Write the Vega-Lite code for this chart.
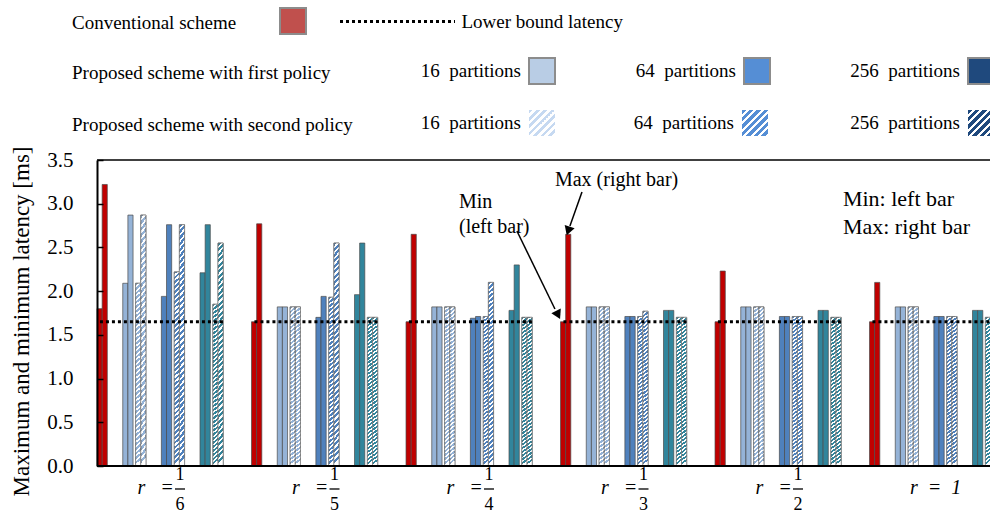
{
  "$schema": "https://vega.github.io/schema/vega-lite/v6.json",
  "width": 893,
  "height": 306,
  "autosize": {"type": "none"},
  "padding": {"left": 97, "top": 160, "right": 0, "bottom": 53},
  "background": "white",
  "config": {"font": "Liberation Serif", "view": {"stroke": null}, "legend": {"padding": 0}},
  "datasets": {
    "bars": [
      {"group":"1/6","bar":"C min","series":"C","value":1.80},{"group":"1/6","bar":"C max","series":"C","value":3.22},
      {"group":"1/6","bar":"F16 min","series":"F16","value":2.09},{"group":"1/6","bar":"F16 max","series":"F16","value":2.87},
      {"group":"1/6","bar":"S16 min","series":"S16","value":2.09},{"group":"1/6","bar":"S16 max","series":"S16","value":2.87},
      {"group":"1/6","bar":"F64 min","series":"F64","value":1.94},{"group":"1/6","bar":"F64 max","series":"F64","value":2.76},
      {"group":"1/6","bar":"S64 min","series":"S64","value":2.22},{"group":"1/6","bar":"S64 max","series":"S64","value":2.76},
      {"group":"1/6","bar":"F256 min","series":"F256","value":2.21},{"group":"1/6","bar":"F256 max","series":"F256","value":2.76},
      {"group":"1/6","bar":"S256 min","series":"S256","value":1.85},{"group":"1/6","bar":"S256 max","series":"S256","value":2.55},

      {"group":"1/5","bar":"C min","series":"C","value":1.65},{"group":"1/5","bar":"C max","series":"C","value":2.77},
      {"group":"1/5","bar":"F16 min","series":"F16","value":1.82},{"group":"1/5","bar":"F16 max","series":"F16","value":1.82},
      {"group":"1/5","bar":"S16 min","series":"S16","value":1.82},{"group":"1/5","bar":"S16 max","series":"S16","value":1.82},
      {"group":"1/5","bar":"F64 min","series":"F64","value":1.70},{"group":"1/5","bar":"F64 max","series":"F64","value":1.94},
      {"group":"1/5","bar":"S64 min","series":"S64","value":1.93},{"group":"1/5","bar":"S64 max","series":"S64","value":2.55},
      {"group":"1/5","bar":"F256 min","series":"F256","value":1.96},{"group":"1/5","bar":"F256 max","series":"F256","value":2.55},
      {"group":"1/5","bar":"S256 min","series":"S256","value":1.70},{"group":"1/5","bar":"S256 max","series":"S256","value":1.70},

      {"group":"1/4","bar":"C min","series":"C","value":1.65},{"group":"1/4","bar":"C max","series":"C","value":2.65},
      {"group":"1/4","bar":"F16 min","series":"F16","value":1.82},{"group":"1/4","bar":"F16 max","series":"F16","value":1.82},
      {"group":"1/4","bar":"S16 min","series":"S16","value":1.82},{"group":"1/4","bar":"S16 max","series":"S16","value":1.82},
      {"group":"1/4","bar":"F64 min","series":"F64","value":1.69},{"group":"1/4","bar":"F64 max","series":"F64","value":1.71},
      {"group":"1/4","bar":"S64 min","series":"S64","value":1.71},{"group":"1/4","bar":"S64 max","series":"S64","value":2.10},
      {"group":"1/4","bar":"F256 min","series":"F256","value":1.78},{"group":"1/4","bar":"F256 max","series":"F256","value":2.30},
      {"group":"1/4","bar":"S256 min","series":"S256","value":1.70},{"group":"1/4","bar":"S256 max","series":"S256","value":1.70},

      {"group":"1/3","bar":"C min","series":"C","value":1.65},{"group":"1/3","bar":"C max","series":"C","value":2.65},
      {"group":"1/3","bar":"F16 min","series":"F16","value":1.82},{"group":"1/3","bar":"F16 max","series":"F16","value":1.82},
      {"group":"1/3","bar":"S16 min","series":"S16","value":1.82},{"group":"1/3","bar":"S16 max","series":"S16","value":1.82},
      {"group":"1/3","bar":"F64 min","series":"F64","value":1.71},{"group":"1/3","bar":"F64 max","series":"F64","value":1.71},
      {"group":"1/3","bar":"S64 min","series":"S64","value":1.71},{"group":"1/3","bar":"S64 max","series":"S64","value":1.77},
      {"group":"1/3","bar":"F256 min","series":"F256","value":1.78},{"group":"1/3","bar":"F256 max","series":"F256","value":1.78},
      {"group":"1/3","bar":"S256 min","series":"S256","value":1.70},{"group":"1/3","bar":"S256 max","series":"S256","value":1.70},

      {"group":"1/2","bar":"C min","series":"C","value":1.65},{"group":"1/2","bar":"C max","series":"C","value":2.23},
      {"group":"1/2","bar":"F16 min","series":"F16","value":1.82},{"group":"1/2","bar":"F16 max","series":"F16","value":1.82},
      {"group":"1/2","bar":"S16 min","series":"S16","value":1.82},{"group":"1/2","bar":"S16 max","series":"S16","value":1.82},
      {"group":"1/2","bar":"F64 min","series":"F64","value":1.71},{"group":"1/2","bar":"F64 max","series":"F64","value":1.71},
      {"group":"1/2","bar":"S64 min","series":"S64","value":1.71},{"group":"1/2","bar":"S64 max","series":"S64","value":1.71},
      {"group":"1/2","bar":"F256 min","series":"F256","value":1.78},{"group":"1/2","bar":"F256 max","series":"F256","value":1.78},
      {"group":"1/2","bar":"S256 min","series":"S256","value":1.70},{"group":"1/2","bar":"S256 max","series":"S256","value":1.70},

      {"group":"1","bar":"C min","series":"C","value":1.65},{"group":"1","bar":"C max","series":"C","value":2.10},
      {"group":"1","bar":"F16 min","series":"F16","value":1.82},{"group":"1","bar":"F16 max","series":"F16","value":1.82},
      {"group":"1","bar":"S16 min","series":"S16","value":1.82},{"group":"1","bar":"S16 max","series":"S16","value":1.82},
      {"group":"1","bar":"F64 min","series":"F64","value":1.71},{"group":"1","bar":"F64 max","series":"F64","value":1.71},
      {"group":"1","bar":"S64 min","series":"S64","value":1.71},{"group":"1","bar":"S64 max","series":"S64","value":1.71},
      {"group":"1","bar":"F256 min","series":"F256","value":1.78},{"group":"1","bar":"F256 max","series":"F256","value":1.78},
      {"group":"1","bar":"S256 min","series":"S256","value":1.70},{"group":"1","bar":"S256 max","series":"S256","value":1.70}
    ],
    "lower": [
      {"group":"1/6","lb":1.65,"kind":"Lower bound latency"},
      {"group":"1/5","lb":1.65,"kind":"Lower bound latency"},
      {"group":"1/4","lb":1.65,"kind":"Lower bound latency"},
      {"group":"1/3","lb":1.65,"kind":"Lower bound latency"},
      {"group":"1/2","lb":1.65,"kind":"Lower bound latency"},
      {"group":"1","lb":1.65,"kind":"Lower bound latency"}
    ],
    "fractions": [
      {"group":"1/6","num":"1","den":"6"},
      {"group":"1/5","num":"1","den":"5"},
      {"group":"1/4","num":"1","den":"4"},
      {"group":"1/3","num":"1","den":"3"},
      {"group":"1/2","num":"1","den":"2"}
    ]
  },
  "layer": [
    {
      "data": {"values": [{}]},
      "mark": {"type": "rule", "color": "black", "strokeWidth": 1.5},
      "encoding": {"y": {"datum": 3.5, "type": "quantitative", "scale": {"domain": [0, 3.5], "nice": false}}}
    },
    {
      "data": {"name": "bars"},
      "mark": {"type": "bar", "width": {"band": 2}, "stroke": "#4a4a4a", "strokeWidth": 0.7},
      "encoding": {
        "x": {"field": "group", "type": "nominal", "sort": null,
          "scale": {"domain": ["1/6","1/5","1/4","1/3","1/2","1"], "range": [77.25, 1004.25], "paddingInner": 0, "paddingOuter": 0},
          "axis": {"title": null, "domain": false, "ticks": false, "labelAngle": 0,
            "labelFont": "Liberation Serif", "labelFontSize": 20, "labelFontStyle": "italic", "labelColor": "black", "labelPadding": 21,
            "labelBaseline": "middle", "labelAlign": "left", "labelOffset": -114, "labelLimit": 0,
            "labelExpr": "datum.value == '1' ? 'r\u00a0\u00a0=\u00a0\u00a01' : 'r\u00a0\u00a0\u00a0='"}},
        "xOffset": {"field": "bar", "type": "nominal",
          "scale": {"domain": ["C min","h1","C max","h3","h4","h5","h6","h7","h8","h9","F16 min","h11","F16 max","h13","h14","S16 min","h16","S16 max","h18","h19","h20","h21","h22","h23","h24","F64 min","h26","F64 max","h28","h29","S64 min","h31","S64 max","h33","h34","h35","h36","h37","h38","h39","F256 min","h41","F256 max","h43","h44","S256 min","h46","S256 max","h48","h49","h50","h51","h52","h53","h54","h55","h56","h57","h58","h59"]}},
        "y": {"field": "value", "type": "quantitative", "scale": {"domain": [0, 3.5], "nice": false},
          "axis": {"title": "Maximum and minimum latency [ms]", "titleFont": "Liberation Serif", "titleFontSize": 23, "titleFontWeight": "normal", "titleColor": "black", "titlePadding": 13, "titleY": 161,
            "values": [0, 0.5, 1, 1.5, 2, 2.5, 3, 3.5], "format": ".1f", "labelFont": "Liberation Serif", "labelFontSize": 21, "labelColor": "black", "labelPadding": 30,
            "tickSize": -6, "tickColor": "black", "tickWidth": 1.5, "domainColor": "black", "domainWidth": 2, "grid": false, "zindex": 1}},
        "fill": {"field": "series", "type": "nominal",
          "scale": {"domain": ["C","F16","S16","F64","S64","F256","S256"], "range": ["#C00000","#95B3D7","#95B3D7","#4F81BD","#4F81BD","#31859C","#31859C"]},
          "legend": null}
      }
    },
    {
      "data": {"name": "bars"},
      "transform": [{"filter": {"field": "series", "oneOf": ["S16","S64","S256"]}}],
      "mark": {"type": "bar", "width": {"band": 2}, "stroke": "#7f7f7f", "strokeWidth": 0.7,
        "fill": {"gradient": "linear", "x1": 0, "y1": 0, "x2": 0.025, "y2": 1, "stops": [
{"offset":0,"color":"rgba(255,255,255,0)"},{"offset":0.014,"color":"rgba(255,255,255,0)"},{"offset":0.014,"color":"#fff"},{"offset":0.025,"color":"#fff"},
{"offset":0.025,"color":"rgba(255,255,255,0)"},{"offset":0.039,"color":"rgba(255,255,255,0)"},{"offset":0.039,"color":"#fff"},{"offset":0.05,"color":"#fff"},
{"offset":0.05,"color":"rgba(255,255,255,0)"},{"offset":0.064,"color":"rgba(255,255,255,0)"},{"offset":0.064,"color":"#fff"},{"offset":0.075,"color":"#fff"},
{"offset":0.075,"color":"rgba(255,255,255,0)"},{"offset":0.089,"color":"rgba(255,255,255,0)"},{"offset":0.089,"color":"#fff"},{"offset":0.1,"color":"#fff"},
{"offset":0.1,"color":"rgba(255,255,255,0)"},{"offset":0.114,"color":"rgba(255,255,255,0)"},{"offset":0.114,"color":"#fff"},{"offset":0.125,"color":"#fff"},
{"offset":0.125,"color":"rgba(255,255,255,0)"},{"offset":0.139,"color":"rgba(255,255,255,0)"},{"offset":0.139,"color":"#fff"},{"offset":0.15,"color":"#fff"},
{"offset":0.15,"color":"rgba(255,255,255,0)"},{"offset":0.164,"color":"rgba(255,255,255,0)"},{"offset":0.164,"color":"#fff"},{"offset":0.175,"color":"#fff"},
{"offset":0.175,"color":"rgba(255,255,255,0)"},{"offset":0.189,"color":"rgba(255,255,255,0)"},{"offset":0.189,"color":"#fff"},{"offset":0.2,"color":"#fff"},
{"offset":0.2,"color":"rgba(255,255,255,0)"},{"offset":0.214,"color":"rgba(255,255,255,0)"},{"offset":0.214,"color":"#fff"},{"offset":0.225,"color":"#fff"},
{"offset":0.225,"color":"rgba(255,255,255,0)"},{"offset":0.239,"color":"rgba(255,255,255,0)"},{"offset":0.239,"color":"#fff"},{"offset":0.25,"color":"#fff"},
{"offset":0.25,"color":"rgba(255,255,255,0)"},{"offset":0.264,"color":"rgba(255,255,255,0)"},{"offset":0.264,"color":"#fff"},{"offset":0.275,"color":"#fff"},
{"offset":0.275,"color":"rgba(255,255,255,0)"},{"offset":0.289,"color":"rgba(255,255,255,0)"},{"offset":0.289,"color":"#fff"},{"offset":0.3,"color":"#fff"},
{"offset":0.3,"color":"rgba(255,255,255,0)"},{"offset":0.314,"color":"rgba(255,255,255,0)"},{"offset":0.314,"color":"#fff"},{"offset":0.325,"color":"#fff"},
{"offset":0.325,"color":"rgba(255,255,255,0)"},{"offset":0.339,"color":"rgba(255,255,255,0)"},{"offset":0.339,"color":"#fff"},{"offset":0.35,"color":"#fff"},
{"offset":0.35,"color":"rgba(255,255,255,0)"},{"offset":0.364,"color":"rgba(255,255,255,0)"},{"offset":0.364,"color":"#fff"},{"offset":0.375,"color":"#fff"},
{"offset":0.375,"color":"rgba(255,255,255,0)"},{"offset":0.389,"color":"rgba(255,255,255,0)"},{"offset":0.389,"color":"#fff"},{"offset":0.4,"color":"#fff"},
{"offset":0.4,"color":"rgba(255,255,255,0)"},{"offset":0.414,"color":"rgba(255,255,255,0)"},{"offset":0.414,"color":"#fff"},{"offset":0.425,"color":"#fff"},
{"offset":0.425,"color":"rgba(255,255,255,0)"},{"offset":0.439,"color":"rgba(255,255,255,0)"},{"offset":0.439,"color":"#fff"},{"offset":0.45,"color":"#fff"},
{"offset":0.45,"color":"rgba(255,255,255,0)"},{"offset":0.464,"color":"rgba(255,255,255,0)"},{"offset":0.464,"color":"#fff"},{"offset":0.475,"color":"#fff"},
{"offset":0.475,"color":"rgba(255,255,255,0)"},{"offset":0.489,"color":"rgba(255,255,255,0)"},{"offset":0.489,"color":"#fff"},{"offset":0.5,"color":"#fff"},
{"offset":0.5,"color":"rgba(255,255,255,0)"},{"offset":0.514,"color":"rgba(255,255,255,0)"},{"offset":0.514,"color":"#fff"},{"offset":0.525,"color":"#fff"},
{"offset":0.525,"color":"rgba(255,255,255,0)"},{"offset":0.539,"color":"rgba(255,255,255,0)"},{"offset":0.539,"color":"#fff"},{"offset":0.55,"color":"#fff"},
{"offset":0.55,"color":"rgba(255,255,255,0)"},{"offset":0.564,"color":"rgba(255,255,255,0)"},{"offset":0.564,"color":"#fff"},{"offset":0.575,"color":"#fff"},
{"offset":0.575,"color":"rgba(255,255,255,0)"},{"offset":0.589,"color":"rgba(255,255,255,0)"},{"offset":0.589,"color":"#fff"},{"offset":0.6,"color":"#fff"},
{"offset":0.6,"color":"rgba(255,255,255,0)"},{"offset":0.614,"color":"rgba(255,255,255,0)"},{"offset":0.614,"color":"#fff"},{"offset":0.625,"color":"#fff"},
{"offset":0.625,"color":"rgba(255,255,255,0)"},{"offset":0.639,"color":"rgba(255,255,255,0)"},{"offset":0.639,"color":"#fff"},{"offset":0.65,"color":"#fff"},
{"offset":0.65,"color":"rgba(255,255,255,0)"},{"offset":0.664,"color":"rgba(255,255,255,0)"},{"offset":0.664,"color":"#fff"},{"offset":0.675,"color":"#fff"},
{"offset":0.675,"color":"rgba(255,255,255,0)"},{"offset":0.689,"color":"rgba(255,255,255,0)"},{"offset":0.689,"color":"#fff"},{"offset":0.7,"color":"#fff"},
{"offset":0.7,"color":"rgba(255,255,255,0)"},{"offset":0.714,"color":"rgba(255,255,255,0)"},{"offset":0.714,"color":"#fff"},{"offset":0.725,"color":"#fff"},
{"offset":0.725,"color":"rgba(255,255,255,0)"},{"offset":0.739,"color":"rgba(255,255,255,0)"},{"offset":0.739,"color":"#fff"},{"offset":0.75,"color":"#fff"},
{"offset":0.75,"color":"rgba(255,255,255,0)"},{"offset":0.764,"color":"rgba(255,255,255,0)"},{"offset":0.764,"color":"#fff"},{"offset":0.775,"color":"#fff"},
{"offset":0.775,"color":"rgba(255,255,255,0)"},{"offset":0.789,"color":"rgba(255,255,255,0)"},{"offset":0.789,"color":"#fff"},{"offset":0.8,"color":"#fff"},
{"offset":0.8,"color":"rgba(255,255,255,0)"},{"offset":0.814,"color":"rgba(255,255,255,0)"},{"offset":0.814,"color":"#fff"},{"offset":0.825,"color":"#fff"},
{"offset":0.825,"color":"rgba(255,255,255,0)"},{"offset":0.839,"color":"rgba(255,255,255,0)"},{"offset":0.839,"color":"#fff"},{"offset":0.85,"color":"#fff"},
{"offset":0.85,"color":"rgba(255,255,255,0)"},{"offset":0.864,"color":"rgba(255,255,255,0)"},{"offset":0.864,"color":"#fff"},{"offset":0.875,"color":"#fff"},
{"offset":0.875,"color":"rgba(255,255,255,0)"},{"offset":0.889,"color":"rgba(255,255,255,0)"},{"offset":0.889,"color":"#fff"},{"offset":0.9,"color":"#fff"},
{"offset":0.9,"color":"rgba(255,255,255,0)"},{"offset":0.914,"color":"rgba(255,255,255,0)"},{"offset":0.914,"color":"#fff"},{"offset":0.925,"color":"#fff"},
{"offset":0.925,"color":"rgba(255,255,255,0)"},{"offset":0.939,"color":"rgba(255,255,255,0)"},{"offset":0.939,"color":"#fff"},{"offset":0.95,"color":"#fff"},
{"offset":0.95,"color":"rgba(255,255,255,0)"},{"offset":0.964,"color":"rgba(255,255,255,0)"},{"offset":0.964,"color":"#fff"},{"offset":0.975,"color":"#fff"},
{"offset":0.975,"color":"rgba(255,255,255,0)"},{"offset":0.989,"color":"rgba(255,255,255,0)"},{"offset":0.989,"color":"#fff"},{"offset":1,"color":"#fff"}
        ]}},
      "encoding": {
        "x": {"field": "group", "type": "nominal", "sort": null,
          "scale": {"domain": ["1/6","1/5","1/4","1/3","1/2","1"], "range": [77.25, 1004.25], "paddingInner": 0, "paddingOuter": 0}},
        "xOffset": {"field": "bar", "type": "nominal",
          "scale": {"domain": ["C min","h1","C max","h3","h4","h5","h6","h7","h8","h9","F16 min","h11","F16 max","h13","h14","S16 min","h16","S16 max","h18","h19","h20","h21","h22","h23","h24","F64 min","h26","F64 max","h28","h29","S64 min","h31","S64 max","h33","h34","h35","h36","h37","h38","h39","F256 min","h41","F256 max","h43","h44","S256 min","h46","S256 max","h48","h49","h50","h51","h52","h53","h54","h55","h56","h57","h58","h59"]}},
        "y": {"field": "value", "type": "quantitative", "scale": {"domain": [0, 3.5], "nice": false}}
      }
    },
    {
      "data": {"values": [{}]},
      "mark": {"type": "rule", "color": "black", "strokeWidth": 2},
      "encoding": {"y": {"datum": 0, "type": "quantitative", "scale": {"domain": [0, 3.5], "nice": false}}}
    },
    {
      "data": {"name": "lower"},
      "transform": [{"filter": "datum.group == '1/6'"}],
      "mark": {"type": "rule", "color": "black", "strokeWidth": 3},
      "encoding": {
        "x": {"datum": "1/6", "type": "nominal", "bandPosition": -0.481, "scale": {"domain": ["1/6","1/5","1/4","1/3","1/2","1"], "range": [77.25, 1004.25], "paddingInner": 0, "paddingOuter": 0}},
        "x2": {"datum": "1/6", "bandPosition": 0.316},
        "y": {"field": "lb", "type": "quantitative", "scale": {"domain": [0, 3.5], "nice": false}},
        "strokeDash": {"field": "kind", "type": "nominal",
          "scale": {"domain": ["Lower bound latency"], "range": [[3, 3]]},
          "legend": {"orient": "none", "legendX": 241.5, "legendY": -197.5, "title": null, "padding": 0,
            "symbolType": "stroke", "symbolSize": 13225, "symbolStrokeColor": "black", "symbolStrokeWidth": 3,
            "labelFont": "Liberation Serif", "labelFontSize": 19, "labelColor": "black", "labelOffset": 5, "labelLimit": 0}}
      }
    },
    {
      "data": {"name": "lower"},
      "transform": [{"filter": "datum.group == '1/5'"}],
      "mark": {"type": "rule", "color": "black", "strokeWidth": 3, "strokeDash": [3, 3]},
      "encoding": {
        "x": {"datum": "1/5", "type": "nominal", "bandPosition": -0.481, "scale": {"domain": ["1/6","1/5","1/4","1/3","1/2","1"], "range": [77.25, 1004.25], "paddingInner": 0, "paddingOuter": 0}},
        "x2": {"datum": "1/5", "bandPosition": 0.316},
        "y": {"field": "lb", "type": "quantitative", "scale": {"domain": [0, 3.5], "nice": false}}
      }
    },
    {
      "data": {"name": "lower"},
      "transform": [{"filter": "datum.group == '1/4'"}],
      "mark": {"type": "rule", "color": "black", "strokeWidth": 3, "strokeDash": [3, 3]},
      "encoding": {
        "x": {"datum": "1/4", "type": "nominal", "bandPosition": -0.481, "scale": {"domain": ["1/6","1/5","1/4","1/3","1/2","1"], "range": [77.25, 1004.25], "paddingInner": 0, "paddingOuter": 0}},
        "x2": {"datum": "1/4", "bandPosition": 0.316},
        "y": {"field": "lb", "type": "quantitative", "scale": {"domain": [0, 3.5], "nice": false}}
      }
    },
    {
      "data": {"name": "lower"},
      "transform": [{"filter": "datum.group == '1/3'"}],
      "mark": {"type": "rule", "color": "black", "strokeWidth": 3, "strokeDash": [3, 3]},
      "encoding": {
        "x": {"datum": "1/3", "type": "nominal", "bandPosition": -0.481, "scale": {"domain": ["1/6","1/5","1/4","1/3","1/2","1"], "range": [77.25, 1004.25], "paddingInner": 0, "paddingOuter": 0}},
        "x2": {"datum": "1/3", "bandPosition": 0.316},
        "y": {"field": "lb", "type": "quantitative", "scale": {"domain": [0, 3.5], "nice": false}}
      }
    },
    {
      "data": {"name": "lower"},
      "transform": [{"filter": "datum.group == '1/2'"}],
      "mark": {"type": "rule", "color": "black", "strokeWidth": 3, "strokeDash": [3, 3]},
      "encoding": {
        "x": {"datum": "1/2", "type": "nominal", "bandPosition": -0.481, "scale": {"domain": ["1/6","1/5","1/4","1/3","1/2","1"], "range": [77.25, 1004.25], "paddingInner": 0, "paddingOuter": 0}},
        "x2": {"datum": "1/2", "bandPosition": 0.316},
        "y": {"field": "lb", "type": "quantitative", "scale": {"domain": [0, 3.5], "nice": false}}
      }
    },
    {
      "data": {"name": "lower"},
      "transform": [{"filter": "datum.group == '1'"}],
      "mark": {"type": "rule", "color": "black", "strokeWidth": 3, "strokeDash": [3, 3]},
      "encoding": {
        "x": {"datum": "1", "type": "nominal", "bandPosition": -0.481, "scale": {"domain": ["1/6","1/5","1/4","1/3","1/2","1"], "range": [77.25, 1004.25], "paddingInner": 0, "paddingOuter": 0}},
        "x2": {"datum": "1", "bandPosition": 0.316},
        "y": {"field": "lb", "type": "quantitative", "scale": {"domain": [0, 3.5], "nice": false}}
      }
    },
    {
      "data": {"name": "fractions"},
      "mark": {"type": "text", "font": "Liberation Serif", "fontSize": 18, "baseline": "middle", "align": "center", "color": "black"},
      "encoding": {
        "x": {"field": "group", "type": "nominal", "bandPosition": 0.037,
          "scale": {"domain": ["1/6","1/5","1/4","1/3","1/2","1"], "range": [77.25, 1004.25], "paddingInner": 0, "paddingOuter": 0}},
        "y": {"datum": -0.103, "type": "quantitative", "scale": {"domain": [0, 3.5], "nice": false}},
        "text": {"field": "num"}
      }
    },
    {
      "data": {"name": "fractions"},
      "mark": {"type": "tick", "color": "black", "size": 10, "thickness": 1.3, "opacity": 1, "xOffset": -71.5},
      "encoding": {
        "x": {"field": "group", "type": "nominal",
          "scale": {"domain": ["1/6","1/5","1/4","1/3","1/2","1"], "range": [77.25, 1004.25], "paddingInner": 0, "paddingOuter": 0}},
        "y": {"datum": -0.263, "type": "quantitative", "scale": {"domain": [0, 3.5], "nice": false}}
      }
    },
    {
      "data": {"name": "fractions"},
      "mark": {"type": "text", "font": "Liberation Serif", "fontSize": 18, "baseline": "middle", "align": "center", "color": "black"},
      "encoding": {
        "x": {"field": "group", "type": "nominal", "bandPosition": 0.037,
          "scale": {"domain": ["1/6","1/5","1/4","1/3","1/2","1"], "range": [77.25, 1004.25], "paddingInner": 0, "paddingOuter": 0}},
        "y": {"datum": -0.446, "type": "quantitative", "scale": {"domain": [0, 3.5], "nice": false}},
        "text": {"field": "den"}
      }
    },
    {
      "data": {"values": []},
      "mark": {"type": "bar"},
      "encoding": {
        "fill": {"field": "k", "type": "nominal",
          "scale": {"domain": ["Conventional"], "range": ["#C0504D"]},
          "legend": {"orient": "none", "legendX": -25, "legendY": -153, "padding": 0,
            "title": "Conventional scheme", "titleOrient": "left", "titleFont": "Liberation Serif", "titleFontSize": 19, "titleFontWeight": "normal", "titleColor": "black",
            "titlePadding": 42, "titleLimit": 500, "titleAnchor": "middle", "labelExpr": "''",
            "symbolType": "square", "symbolSize": 676, "symbolStrokeColor": "#8c8c8c", "symbolStrokeWidth": 2, "symbolOpacity": 1}}
      }
    },
    {
      "data": {"values": []},
      "mark": {"type": "bar"},
      "encoding": {
        "fill": {"field": "k", "type": "nominal",
          "scale": {"domain": ["16\u00a0 partitions", "64\u00a0 partitions", "256\u00a0 partitions"], "range": ["#B9CDE5", "#558ED5", "#1F497D"]},
          "legend": {"orient": "none", "legendX": -25, "legendY": -103, "padding": 0, "direction": "horizontal", "columnPadding": 76,
            "title": "Proposed scheme with first policy", "titleOrient": "left", "titleFont": "Liberation Serif", "titleFontSize": 19, "titleFontWeight": "normal", "titleColor": "black",
            "titlePadding": 197, "titleLimit": 500, "titleAnchor": "middle",
            "labelFont": "Liberation Serif", "labelFontSize": 19, "labelColor": "black", "labelAlign": "right", "labelOffset": -35, "labelLimit": 0,
            "symbolType": "square", "symbolSize": 676, "symbolStrokeColor": "#8c8c8c", "symbolStrokeWidth": 2, "symbolOpacity": 1}}
      }
    },
    {
      "data": {"values": []},
      "mark": {"type": "bar", "fill": {"gradient": "linear", "x1": 0, "y1": 0, "x2": 1, "y2": 1, "stops": [
              {"offset":0,"color":"#C6D9F1"},{"offset":0.0714,"color":"#C6D9F1"},{"offset":0.0714,"color":"#fff"},{"offset":0.1429,"color":"#fff"},
              {"offset":0.1429,"color":"#C6D9F1"},{"offset":0.2143,"color":"#C6D9F1"},{"offset":0.2143,"color":"#fff"},{"offset":0.2857,"color":"#fff"},
              {"offset":0.2857,"color":"#C6D9F1"},{"offset":0.3571,"color":"#C6D9F1"},{"offset":0.3571,"color":"#fff"},{"offset":0.4286,"color":"#fff"},
              {"offset":0.4286,"color":"#C6D9F1"},{"offset":0.5,"color":"#C6D9F1"},{"offset":0.5,"color":"#fff"},{"offset":0.5714,"color":"#fff"},
              {"offset":0.5714,"color":"#C6D9F1"},{"offset":0.6429,"color":"#C6D9F1"},{"offset":0.6429,"color":"#fff"},{"offset":0.7143,"color":"#fff"},
              {"offset":0.7143,"color":"#C6D9F1"},{"offset":0.7857,"color":"#C6D9F1"},{"offset":0.7857,"color":"#fff"},{"offset":0.8571,"color":"#fff"},
              {"offset":0.8571,"color":"#C6D9F1"},{"offset":0.9286,"color":"#C6D9F1"},{"offset":0.9286,"color":"#fff"},{"offset":1,"color":"#fff"}]}},
      "encoding": {
        "opacity": {"field": "k", "type": "ordinal",
          "scale": {"domain": ["16\u00a0 partitions"], "range": [1]},
          "legend": {"orient": "none", "legendX": -25, "legendY": -51, "padding": 0,
            "title": "Proposed scheme with second policy", "titleOrient": "left", "titleFont": "Liberation Serif", "titleFontSize": 19, "titleFontWeight": "normal", "titleColor": "black",
            "titlePadding": 175, "titleLimit": 500, "titleAnchor": "middle",
            "labelFont": "Liberation Serif", "labelFontSize": 19, "labelColor": "black", "labelAlign": "right", "labelOffset": -35, "labelLimit": 0,
            "symbolType": "square", "symbolSize": 676, "symbolStrokeColor": "#8c8c8c", "symbolStrokeWidth": 2, "symbolOpacity": 1}}
      }
    },
    {
      "data": {"values": []},
      "mark": {"type": "bar", "fill": {"gradient": "linear", "x1": 0, "y1": 0, "x2": 1, "y2": 1, "stops": [
              {"offset":0,"color":"#558ED5"},{"offset":0.0857,"color":"#558ED5"},{"offset":0.0857,"color":"#fff"},{"offset":0.1429,"color":"#fff"},
              {"offset":0.1429,"color":"#558ED5"},{"offset":0.2286,"color":"#558ED5"},{"offset":0.2286,"color":"#fff"},{"offset":0.2857,"color":"#fff"},
              {"offset":0.2857,"color":"#558ED5"},{"offset":0.3714,"color":"#558ED5"},{"offset":0.3714,"color":"#fff"},{"offset":0.4286,"color":"#fff"},
              {"offset":0.4286,"color":"#558ED5"},{"offset":0.5143,"color":"#558ED5"},{"offset":0.5143,"color":"#fff"},{"offset":0.5714,"color":"#fff"},
              {"offset":0.5714,"color":"#558ED5"},{"offset":0.6571,"color":"#558ED5"},{"offset":0.6571,"color":"#fff"},{"offset":0.7143,"color":"#fff"},
              {"offset":0.7143,"color":"#558ED5"},{"offset":0.8,"color":"#558ED5"},{"offset":0.8,"color":"#fff"},{"offset":0.8571,"color":"#fff"},
              {"offset":0.8571,"color":"#558ED5"},{"offset":0.9429,"color":"#558ED5"},{"offset":0.9429,"color":"#fff"},{"offset":1,"color":"#fff"}]}},
      "encoding": {
        "opacity": {"field": "k", "type": "ordinal",
          "scale": {"domain": ["64\u00a0 partitions"], "range": [1]},
          "legend": {"orient": "none", "legendX": 644, "legendY": -51, "padding": 0, "title": null,
            "labelFont": "Liberation Serif", "labelFontSize": 19, "labelColor": "black", "labelAlign": "right", "labelOffset": -35, "labelLimit": 0,
            "symbolType": "square", "symbolSize": 676, "symbolStrokeColor": "#8c8c8c", "symbolStrokeWidth": 2, "symbolOpacity": 1}}
      }
    },
    {
      "data": {"values": []},
      "mark": {"type": "bar", "fill": {"gradient": "linear", "x1": 0, "y1": 0, "x2": 1, "y2": 1, "stops": [
              {"offset":0,"color":"#1F497D"},{"offset":0.0857,"color":"#1F497D"},{"offset":0.0857,"color":"#fff"},{"offset":0.1429,"color":"#fff"},
              {"offset":0.1429,"color":"#1F497D"},{"offset":0.2286,"color":"#1F497D"},{"offset":0.2286,"color":"#fff"},{"offset":0.2857,"color":"#fff"},
              {"offset":0.2857,"color":"#1F497D"},{"offset":0.3714,"color":"#1F497D"},{"offset":0.3714,"color":"#fff"},{"offset":0.4286,"color":"#fff"},
              {"offset":0.4286,"color":"#1F497D"},{"offset":0.5143,"color":"#1F497D"},{"offset":0.5143,"color":"#fff"},{"offset":0.5714,"color":"#fff"},
              {"offset":0.5714,"color":"#1F497D"},{"offset":0.6571,"color":"#1F497D"},{"offset":0.6571,"color":"#fff"},{"offset":0.7143,"color":"#fff"},
              {"offset":0.7143,"color":"#1F497D"},{"offset":0.8,"color":"#1F497D"},{"offset":0.8,"color":"#fff"},{"offset":0.8571,"color":"#fff"},
              {"offset":0.8571,"color":"#1F497D"},{"offset":0.9429,"color":"#1F497D"},{"offset":0.9429,"color":"#fff"},{"offset":1,"color":"#fff"}]}},
      "encoding": {
        "opacity": {"field": "k", "type": "ordinal",
          "scale": {"domain": ["256\u00a0 partitions"], "range": [1]},
          "legend": {"orient": "none", "legendX": 870, "legendY": -51, "padding": 0, "title": null,
            "labelFont": "Liberation Serif", "labelFontSize": 19, "labelColor": "black", "labelAlign": "right", "labelOffset": -35, "labelLimit": 0,
            "symbolType": "square", "symbolSize": 676, "symbolStrokeColor": "#8c8c8c", "symbolStrokeWidth": 2, "symbolOpacity": 1}}
      }
    },
    {
      "data": {"values": [{}]},
      "mark": {"type": "text", "align": "left", "baseline": "middle", "font": "Liberation Serif", "fontSize": 20, "lineHeight": 25, "color": "black"},
      "encoding": {
        "x": {"datum": "1/4", "type": "nominal", "bandPosition": -0.157, "scale": {"domain": ["1/6","1/5","1/4","1/3","1/2","1"], "range": [77.25, 1004.25], "paddingInner": 0, "paddingOuter": 0}},
        "y": {"datum": 3.014, "type": "quantitative", "scale": {"domain": [0, 3.5], "nice": false}},
        "text": {"value": ["Min", "(left bar)"]}
      }
    },
    {
      "data": {"values": [{}]},
      "mark": {"type": "text", "align": "left", "baseline": "middle", "font": "Liberation Serif", "fontSize": 20, "color": "black"},
      "encoding": {
        "x": {"datum": "1/4", "type": "nominal", "bandPosition": 0.464, "scale": {"domain": ["1/6","1/5","1/4","1/3","1/2","1"], "range": [77.25, 1004.25], "paddingInner": 0, "paddingOuter": 0}},
        "y": {"datum": 3.271, "type": "quantitative", "scale": {"domain": [0, 3.5], "nice": false}},
        "text": {"value": "Max (right bar)"}
      }
    },
    {
      "data": {"values": [{}]},
      "mark": {"type": "text", "align": "left", "baseline": "middle", "font": "Liberation Serif", "fontSize": 22, "lineHeight": 28, "color": "black"},
      "encoding": {
        "x": {"datum": "1/2", "type": "nominal", "bandPosition": 0.328, "scale": {"domain": ["1/6","1/5","1/4","1/3","1/2","1"], "range": [77.25, 1004.25], "paddingInner": 0, "paddingOuter": 0}},
        "y": {"datum": 3.054, "type": "quantitative", "scale": {"domain": [0, 3.5], "nice": false}},
        "text": {"value": ["Min: left bar", "Max: right bar"]}
      }
    },
    {
      "data": {"values": [{}]},
      "mark": {"type": "rule", "color": "black", "strokeWidth": 1.5},
      "encoding": {
        "x": {"datum": "1/4", "type": "nominal", "bandPosition": 0.218, "scale": {"domain": ["1/6","1/5","1/4","1/3","1/2","1"], "range": [77.25, 1004.25], "paddingInner": 0, "paddingOuter": 0}},
        "x2": {"datum": "1/4", "bandPosition": 0.464},
        "y": {"datum": 2.688, "type": "quantitative", "scale": {"domain": [0, 3.5], "nice": false}},
        "y2": {"datum": 1.796}
      }
    },
    {
      "data": {"values": [{}]},
      "mark": {"type": "point", "shape": "triangle", "filled": true, "size": 110, "angle": 153.7, "color": "black", "opacity": 1},
      "encoding": {
        "x": {"datum": "1/4", "type": "nominal", "bandPosition": 0.480, "scale": {"domain": ["1/6","1/5","1/4","1/3","1/2","1"], "range": [77.25, 1004.25], "paddingInner": 0, "paddingOuter": 0}},
        "y": {"datum": 1.744, "type": "quantitative", "scale": {"domain": [0, 3.5], "nice": false}}
      }
    },
    {
      "data": {"values": [{}]},
      "mark": {"type": "rule", "color": "black", "strokeWidth": 1.5},
      "encoding": {
        "x": {"datum": "1/3", "type": "nominal", "bandPosition": -0.361, "scale": {"domain": ["1/6","1/5","1/4","1/3","1/2","1"], "range": [77.25, 1004.25], "paddingInner": 0, "paddingOuter": 0}},
        "x2": {"datum": "1/3", "bandPosition": -0.439},
        "y": {"datum": 3.134, "type": "quantitative", "scale": {"domain": [0, 3.5], "nice": false}},
        "y2": {"datum": 2.745}
      }
    },
    {
      "data": {"values": [{}]},
      "mark": {"type": "point", "shape": "triangle", "filled": true, "size": 110, "angle": 198.9, "color": "black", "opacity": 1},
      "encoding": {
        "x": {"datum": "1/3", "type": "nominal", "bandPosition": -0.447, "scale": {"domain": ["1/6","1/5","1/4","1/3","1/2","1"], "range": [77.25, 1004.25], "paddingInner": 0, "paddingOuter": 0}},
        "y": {"datum": 2.705, "type": "quantitative", "scale": {"domain": [0, 3.5], "nice": false}}
      }
    }
  ],
  "resolve": {"scale": {"fill": "independent", "opacity": "independent"}, "legend": {"fill": "independent", "opacity": "independent"}}
}
